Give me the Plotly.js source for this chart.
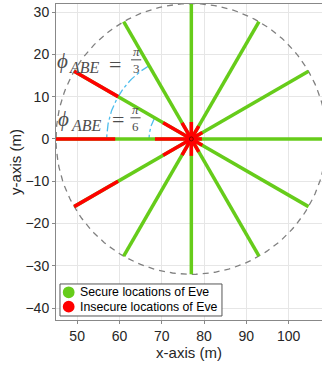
<!DOCTYPE html>
<html><head><meta charset="utf-8">
<script src="https://cdn.plot.ly/plotly-3.0.1.min.js"></script>
<style>html,body{margin:0;padding:0;background:#fff}#chart{width:322px;height:365px}</style>
</head><body><div id="chart"></div>
<script>
// ---- data ----
const centerX = 77, centerY = 0;
const rayAngles = [0, 30, 60, 90, 120, 150, 180, 210, 240, 270, 300, 330];
const rayLength = 32;
const innerInsecureEnd = [2.5, 3, 3.5, 4, 4.4, 7.7, 8.6, 7.7, 4.4, 4, 3.5, 3];
const outerInsecureStart = [null, null, null, null, null, 20, 18, 20, null, null, null, null];
const boundaryRadius = 32;
const arcRadii = [20, 10];
const arcFrom = [120, 150];
const arcTo = [180, 180];
const arcLabels = ['3', '6'];
const xTicks = [50, 60, 70, 80, 90, 100];
const yTicks = [-40, -30, -20, -10, 0, 10, 20, 30];
const legendNames = ['Secure locations of Eve', 'Insecure locations of Eve'];

// ---- helpers ----
const GREEN = '#66cc1a', RED = '#ff0000';
const seriesColors = [GREEN, RED];
function pt(a, r) { const t = a * Math.PI / 180; return [centerX + r * Math.cos(t), centerY + r * Math.sin(t)]; }
function segs(list) {
  const x = [], y = [];
  list.forEach(([a, r0, r1]) => { const p = pt(a, r0), q = pt(a, r1); x.push(p[0], q[0], null); y.push(p[1], q[1], null); });
  return { x, y };
}
const greenSegs = segs(rayAngles.map(a => [a, 0, rayLength]));
const redList = [];
rayAngles.forEach((a, i) => {
  redList.push([a, 0, innerInsecureEnd[i]]);
  if (outerInsecureStart[i] !== null) redList.push([a, outerInsecureStart[i], rayLength]);
});
const redSegs = segs(redList);

const circX = [], circY = [];
for (let d = 0; d <= 360; d += 2) { const p = pt(d, boundaryRadius); circX.push(p[0]); circY.push(p[1]); }

const traces = [];
traces.push({ x: circX, y: circY, mode: 'lines', line: { color: '#808080', width: 1.3, dash: '6px,5px' }, showlegend: false, hoverinfo: 'skip' });
arcRadii.forEach((r, i) => {
  const ax = [], ay = [];
  for (let d = arcFrom[i]; d <= arcTo[i]; d += 1) { const p = pt(d, r); ax.push(p[0]); ay.push(p[1]); }
  traces.push({ x: ax, y: ay, mode: 'lines', line: { color: '#4dbeee', width: 1.3, dash: 'dashdot' }, showlegend: false, hoverinfo: 'skip' });
});
traces.push({ x: greenSegs.x, y: greenSegs.y, mode: 'lines', name: legendNames[0], line: { color: GREEN, width: 3.5 }, showlegend: false });
traces.push({ x: redSegs.x, y: redSegs.y, mode: 'lines', name: legendNames[1], line: { color: RED, width: 3.5 }, showlegend: false });
traces.push({ x: [centerX], y: [centerY], mode: 'markers', marker: { color: RED, size: 13 }, showlegend: false });
traces.push({ x: [centerX], y: [centerY], mode: 'markers', marker: { color: 'rgba(0,0,0,0)', size: 4, line: { color: '#600', width: 0.8 } }, showlegend: false });

// angle labels: phi_ABE = pi/3 and pi/6
const serif = 'Liberation Serif, DejaVu Serif, serif';
const sans = 'Liberation Sans, Arial, sans-serif';
const labCol = '#4d4d4d';
const annotations = [];
const shapes = [];
const labelPos = [
  { phi: [46.45, 18.4], sub: [47.9, 16.8], eq: [59.0, 17.7], fx: 63.95, bar: 18.7 },
  { phi: [46.7, 4.6], sub: [48.35, 3.2], eq: [59.6, 4.7], fx: 63.8, bar: 5.0 }
];
function ann(x, y, text, size, italic, xanchor, yanchor) {
  annotations.push({ x, y, xref: 'x', yref: 'y', xanchor: xanchor || 'center', yanchor: yanchor || 'middle', showarrow: false,
    borderpad: 0, text, font: { family: serif, size, color: labCol, style: italic ? 'italic' : 'normal' } });
}
labelPos.forEach((p, i) => {
  ann(p.phi[0], p.phi[1], 'ϕ', 21, true);
  ann(p.sub[0], p.sub[1], 'ABE', 16, true, 'left');
  ann(p.eq[0], p.eq[1], '=', 22, false);
  ann(p.fx, p.bar, 'π', 13, true, 'center', 'bottom');
  ann(p.fx, p.bar, arcLabels[i], 13, false, 'center', 'top');
  shapes.push({ type: 'line', xref: 'x', yref: 'y', x0: p.fx - 1.2, x1: p.fx + 1.2, y0: p.bar, y1: p.bar, line: { color: labCol, width: 1 } });
});

// compact legend (box + circular markers + text)
const legBox = { x0: 0.015, x1: 0.624, y0: 0.0127, y1: 0.114 };
const legRowY = [0.0877, 0.0421];
shapes.push({ type: 'rect', xref: 'paper', yref: 'paper', x0: legBox.x0, x1: legBox.x1, y0: legBox.y0, y1: legBox.y1,
  line: { color: '#555', width: 1 }, fillcolor: '#fff', layer: 'above' });
legendNames.forEach((nm, i) => {
  shapes.push({ type: 'circle', xref: 'paper', yref: 'paper', xsizemode: 'pixel', ysizemode: 'pixel',
    xanchor: 0.0477, yanchor: legRowY[i], x0: -5.9, x1: 5.9, y0: -5.9, y1: 5.9,
    fillcolor: seriesColors[i], line: { width: 0 }, layer: 'above' });
  annotations.push({ x: 0.0812, y: legRowY[i], xref: 'paper', yref: 'paper', xanchor: 'left', yanchor: 'middle', showarrow: false,
    text: nm, font: { family: sans, size: 12.3, color: '#000' } });
});

const axisFont = { family: sans, size: 14, color: '#262626' };
const layout = {
  width: 322, height: 365,
  margin: { l: 56, r: 0, t: 4, b: 45 },
  paper_bgcolor: '#fff', plot_bgcolor: '#fff',
  showlegend: false,
  xaxis: { range: [45, 107.9], tickvals: xTicks, ticks: 'outside', ticklen: 3, tickcolor: '#888',
    showgrid: true, gridcolor: '#e6e6e6', zeroline: false, showline: true, linecolor: '#888', mirror: true,
    tickfont: axisFont, title: { text: 'x-axis (m)', font: { family: sans, size: 15, color: '#262626' }, standoff: 4 } },
  yaxis: { range: [-42.8, 31.9], tickvals: yTicks, ticks: 'outside', ticklen: 3, tickcolor: '#888',
    showgrid: true, gridcolor: '#e6e6e6', zeroline: false, showline: true, linecolor: '#888',
    tickfont: axisFont, title: { text: 'y-axis (m)', font: { family: sans, size: 15, color: '#262626' }, standoff: 0 } },
  annotations, shapes
};
Plotly.newPlot('chart', traces, layout, { displayModeBar: false, staticPlot: true });
</script>
</body></html>
